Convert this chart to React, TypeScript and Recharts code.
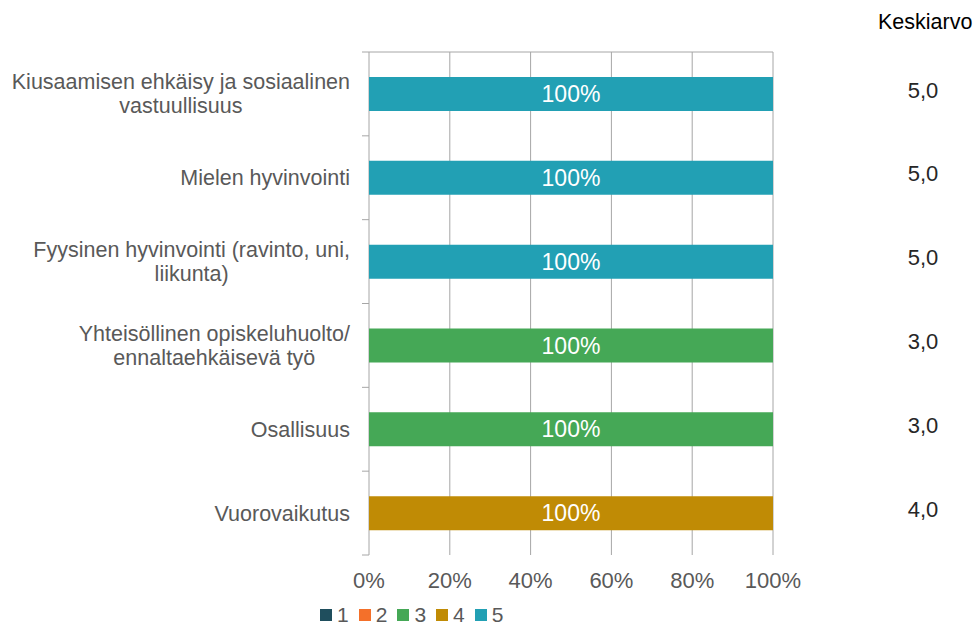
import React from 'react';
import { BarChart, Bar, XAxis, YAxis, CartesianGrid, Legend, LabelList } from 'recharts';

const categories = [
  'Kiusaamisen ehkäisy ja sosiaalinen\nvastuullisuus',
  'Mielen hyvinvointi',
  'Fyysinen hyvinvointi (ravinto, uni,\nliikunta)',
  'Yhteisöllinen opiskeluhuolto/\nennaltaehkäisevä työ',
  'Osallisuus',
  'Vuorovaikutus',
];
// share of answers per response option (1..5)
const share1 = [0, 0, 0, 0, 0, 0];
const share2 = [0, 0, 0, 0, 0, 0];
const share3 = [0, 0, 0, 1, 1, 0];
const share4 = [0, 0, 0, 0, 0, 1];
const share5 = [1, 1, 1, 0, 0, 0];
const averages = [5.0, 5.0, 5.0, 3.0, 3.0, 4.0];
const seriesNames = ['1', '2', '3', '4', '5'];
const seriesColors = ['#1f4e5d', '#f4702a', '#45a856', '#c08b05', '#22a0b4'];
const percentTicks = [0, 0.2, 0.4, 0.6, 0.8, 1];

const FONT = "'Liberation Sans', Arial, sans-serif";
const GRID = '#a6a6a6';
const LABEL = '#595959';
const CAT_SIZE = 21.5;

const shares = [share1, share2, share3, share4, share5];
const rows = categories.map((name, i) => {
  const row: Record<string, string | number> = { name };
  shares.forEach((s, k) => { row[`s${k + 1}`] = s[i]; });
  return row;
});

let ctx: CanvasRenderingContext2D | null = null;
function textWidth(t: string, size: number) {
  if (!ctx) ctx = document.createElement('canvas').getContext('2d');
  if (!ctx) return t.length * size * 0.5;
  ctx.font = `${size}px 'Liberation Sans'`;
  return ctx.measureText(t).width;
}

// category label plus the small tick marks at the band boundaries
const CategoryTick = ({ x, y, payload, index }: any) => {
  const lines = String(payload.value).split('\n');
  const widest = Math.max(...lines.map((l) => textWidth(l, CAT_SIZE)));
  const cx = x - 19 - widest / 2;
  const lh = 24;
  const top = y - ((lines.length - 1) * lh) / 2;
  const half = payload.offset || 0;
  return (
    <g>
      <line x1={x - 7} x2={x} y1={y - half} y2={y - half} stroke={GRID} />
      {index === categories.length - 1 && (
        <line x1={x - 7} x2={x} y1={y + half} y2={y + half} stroke={GRID} />
      )}
      <text textAnchor="middle" fill={LABEL} fontSize={CAT_SIZE} fontFamily={FONT}>
        {lines.map((l, i) => (
          <tspan key={i} x={cx} y={top + i * lh} dy="0.35em">{l}</tspan>
        ))}
      </text>
    </g>
  );
};

const AverageTick = ({ x, y, index }: any) => (
  <text x={x + 150} y={y - 4} dy="0.35em" textAnchor="middle" fill="#262626" fontSize={22} fontFamily={FONT}>
    {averages[index].toFixed(1).replace('.', ',')}
  </text>
);

const NoTick = () => <g />;

const BarValue = ({ x, y, width, height, value }: any) => {
  if (!value) return null;
  return (
    <text x={x + width / 2} y={y + height / 2} dy="0.35em" textAnchor="middle" fill="#fff" fontSize={23} fontFamily={FONT}>
      {`${Math.round(value * 100)}%`}
    </text>
  );
};

const LegendContent = () => (
  <div style={{ display: 'flex', alignItems: 'center', fontFamily: FONT, fontSize: 21, color: LABEL }}>
    {seriesNames.map((n, i) => (
      <div key={n} style={{ display: 'flex', alignItems: 'center', marginRight: 10 }}>
        <span style={{ width: 12, height: 12, background: seriesColors[i], display: 'inline-block', marginRight: 5 }} />
        <span>{n}</span>
      </div>
    ))}
  </div>
);

export default function App() {
  return (
    <div style={{ position: 'absolute', top: 0, left: 0, width: 975, height: 630, background: '#fff' }}>
      <div style={{ position: 'absolute', left: 878, top: 10, fontFamily: FONT, fontSize: 21.5, color: '#000' }}>
        Keskiarvo
      </div>
      <BarChart
        width={975}
        height={630}
        data={rows}
        layout="vertical"
        margin={{ top: 46, right: 0, bottom: 10, left: 0 }}
        style={{ fontFamily: FONT }}
      >
        <CartesianGrid horizontal={false} stroke={GRID} />
        <XAxis
          type="number"
          domain={[0, 1]}
          ticks={percentTicks}
          tickFormatter={(v: number) => `${Math.round(v * 100)}%`}
          axisLine={false}
          tickLine={false}
          tickSize={6}
          tickMargin={11}
          height={40}
          tick={{ fill: LABEL, fontSize: 22 }}
        />
        <XAxis
          xAxisId="top"
          orientation="top"
          type="number"
          domain={[0, 1]}
          ticks={percentTicks}
          height={6}
          tickSize={6}
          tick={NoTick}
          axisLine={{ stroke: GRID }}
          tickLine={{ stroke: GRID }}
        />
        <YAxis
          type="category"
          dataKey="name"
          width={369}
          axisLine={false}
          tickLine={false}
          tickSize={0}
          tickMargin={0}
          tick={CategoryTick}
          interval={0}
        />
        <YAxis
          yAxisId="avg"
          orientation="right"
          type="category"
          dataKey="name"
          width={202}
          axisLine={false}
          tickLine={false}
          tickSize={0}
          tickMargin={0}
          tick={AverageTick}
          interval={0}
        />
        {seriesNames.map((n, i) => (
          <Bar
            key={n}
            dataKey={`s${i + 1}`}
            name={n}
            stackId="a"
            fill={seriesColors[i]}
            barSize={34}
            isAnimationActive={false}
          >
            <LabelList dataKey={`s${i + 1}`} content={BarValue} />
          </Bar>
        ))}
        <Legend
          content={LegendContent}
          verticalAlign="bottom"
          wrapperStyle={{ left: 320, top: 603, width: 'auto', height: 25 }}
        />
      </BarChart>
    </div>
  );
}
